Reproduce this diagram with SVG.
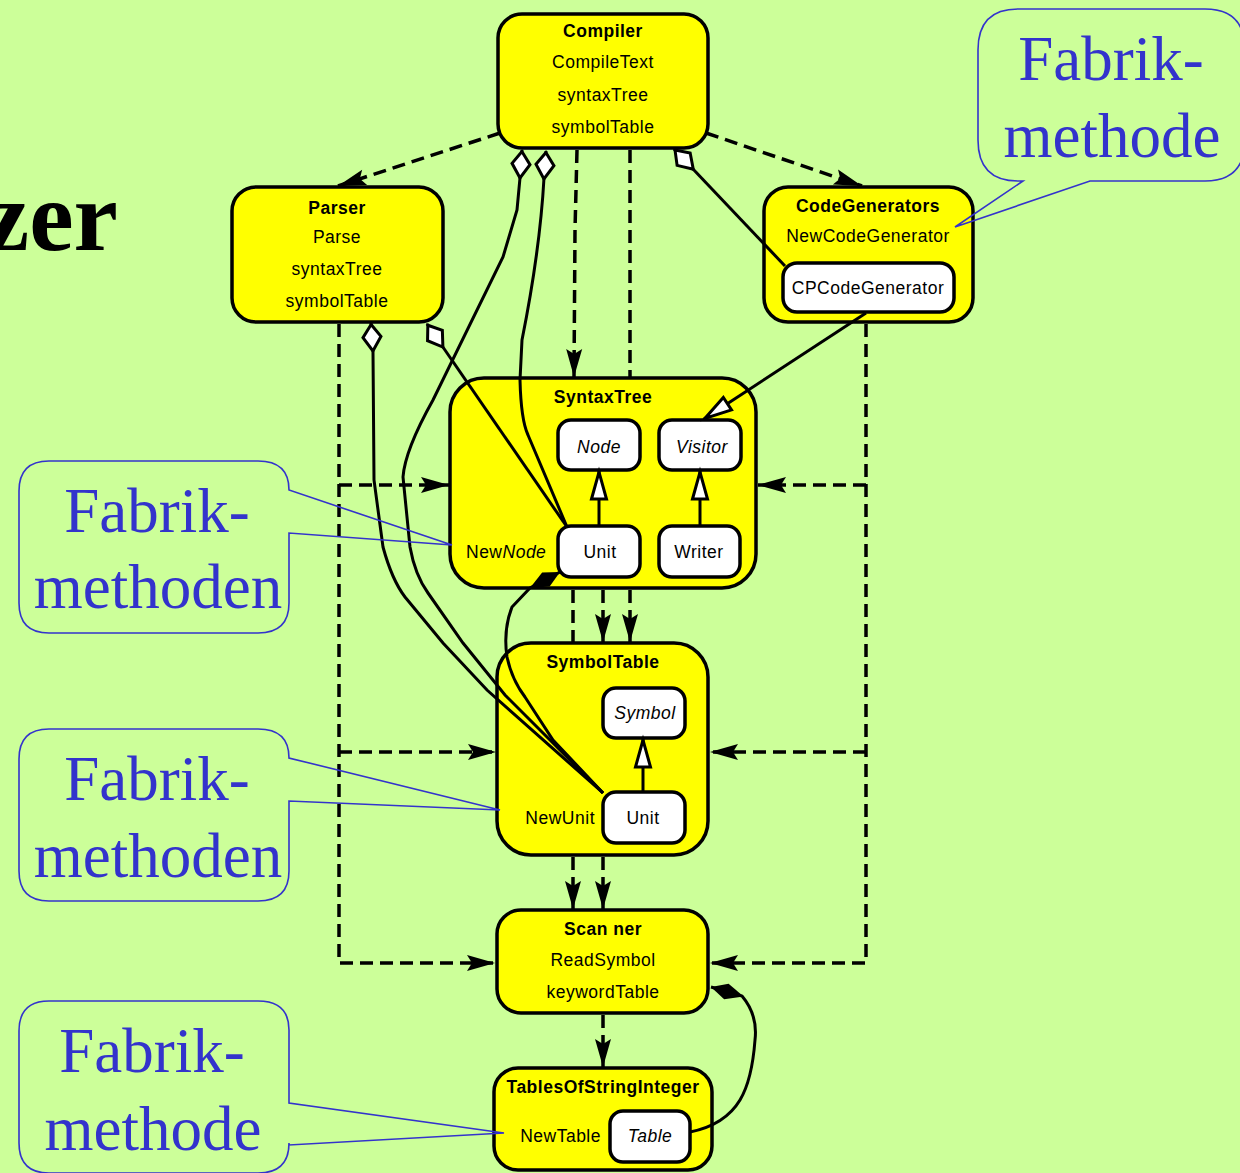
<svg xmlns="http://www.w3.org/2000/svg" width="1240" height="1173" viewBox="0 0 1240 1173">
<style>
.bg{fill:#ccff99}
.nd{fill:#ffff00;stroke:#000;stroke-width:3.5}
.in{fill:#fff;stroke:#000;stroke-width:3.5}
.t{font-family:"Liberation Sans",Arial,sans-serif;font-size:17.5px;letter-spacing:0.5px;fill:#000;text-anchor:middle}
.b{font-weight:bold}
.i{font-style:italic}
.dash{fill:none;stroke:#000;stroke-width:3.5;stroke-dasharray:13 7}
.sol{fill:none;stroke:#000;stroke-width:3}
.co{fill:none;stroke:#3333cc;stroke-width:1.6}
.ct{font-family:"Liberation Serif","Times New Roman",serif;font-size:63px;fill:#3333cc;text-anchor:middle}
</style>
<defs>
<marker id="arr" markerUnits="userSpaceOnUse" markerWidth="30" markerHeight="18" refX="28" refY="8" orient="auto" overflow="visible">
<path d="M0,0 L28,8 L0,16 L5,8 Z" fill="#000"/>
</marker>
<marker id="tri" markerUnits="userSpaceOnUse" markerWidth="32" markerHeight="18" refX="30" refY="8" orient="auto" overflow="visible">
<path d="M2,0.5 L29,8 L2,15.5 Z" fill="#fff" stroke="#000" stroke-width="3"/>
</marker>
<marker id="dia" markerUnits="userSpaceOnUse" markerWidth="32" markerHeight="24" refX="0" refY="11" orient="auto" overflow="visible">
<path d="M1.5,11 L14,2 L28,11 L14,20 Z" fill="#fff" stroke="#000" stroke-width="3"/>
</marker>
<marker id="fdia" markerUnits="userSpaceOnUse" markerWidth="36" markerHeight="18" refX="0" refY="8" orient="auto" overflow="visible">
<path d="M0,8 L16,0 L34,8 L16,16 Z" fill="#000"/>
</marker>
</defs>
<rect class="bg" x="0" y="0" width="1240" height="1173"/>
<text x="118" y="250" font-family="Liberation Serif,'Times New Roman',serif" font-size="100" font-weight="bold" text-anchor="end" fill="#000">zer</text>

<g id="Compiler">
<rect class="nd" x="498" y="14" width="210" height="134" rx="24"/>
<text class="t b" x="603" y="37">Compiler</text>
<text class="t" x="603" y="68">CompileText</text>
<text class="t" x="603" y="101">syntaxTree</text>
<text class="t" x="603" y="133">symbolTable</text>
</g>
<g id="Parser">
<rect class="nd" x="232" y="187" width="211" height="135" rx="24"/>
<text class="t b" x="337" y="214">Parser</text>
<text class="t" x="337" y="243">Parse</text>
<text class="t" x="337" y="275">syntaxTree</text>
<text class="t" x="337" y="307">symbolTable</text>
</g>
<g id="CodeGenerators">
<rect class="nd" x="764" y="187" width="209" height="135" rx="24"/>
<text class="t b" x="868" y="212">CodeGenerators</text>
<text class="t" x="868" y="242">NewCodeGenerator</text>
<g id="CPCodeGenerator">
<rect class="in" x="783" y="263" width="171" height="49" rx="14"/>
<text class="t" x="868" y="294">CPCodeGenerator</text>
</g>
</g>
<g id="SyntaxTree">
<rect class="nd" x="450" y="378" width="306" height="210" rx="34"/>
<text class="t b" x="603" y="403">SyntaxTree</text>
<text class="t" x="466" y="558" style="text-anchor:start">New<tspan font-style="italic">Node</tspan></text>
<g id="Node"><rect class="in" x="558" y="420" width="82" height="50" rx="13"/><text class="t i" x="599" y="453">Node</text></g>
<g id="Visitor"><rect class="in" x="659" y="420" width="82" height="50" rx="13"/><text class="t i" x="702" y="453">Visitor</text></g>
<g id="UnitST"><rect class="in" x="558" y="526" width="82" height="51" rx="13"/><text class="t" x="600" y="558">Unit</text></g>
<g id="Writer"><rect class="in" x="659" y="526" width="81" height="51" rx="13"/><text class="t" x="699" y="558">Writer</text></g>
</g>
<g id="SymbolTable">
<rect class="nd" x="497" y="643" width="211" height="212" rx="34"/>
<text class="t b" x="603" y="668">SymbolTable</text>
<text class="t" x="595" y="824" style="text-anchor:end">NewUnit</text>
<g id="Symbol"><rect class="in" x="603" y="688" width="82" height="50" rx="13"/><text class="t i" x="645" y="719">Symbol</text></g>
<g id="UnitSym"><rect class="in" x="603" y="792" width="82" height="51" rx="13"/><text class="t" x="643" y="824">Unit</text></g>
</g>
<g id="Scanner">
<rect class="nd" x="497" y="910" width="211" height="103" rx="24"/>
<text class="t b" x="603" y="935">Scan ner</text>
<text class="t" x="603" y="966">ReadSymbol</text>
<text class="t" x="603" y="998">keywordTable</text>
</g>
<g id="TablesOfStringInteger">
<rect class="nd" x="494" y="1068" width="218" height="102" rx="24"/>
<text class="t b" x="603" y="1093">TablesOfStringInteger</text>
<text class="t" x="601" y="1142" style="text-anchor:end">NewTable</text>
<g id="Table"><rect class="in" x="610" y="1111" width="80" height="51" rx="13"/><text class="t i" x="650" y="1142">Table</text></g>
</g>

<g id="connectors">
<path class="dash" d="M500,133 L338,186" marker-end="url(#arr)"/>
<path class="dash" d="M706,133 L862,186" marker-end="url(#arr)"/>
<path class="dash" d="M577,150 L575,230 L574,377" marker-end="url(#arr)"/>
<path class="dash" d="M630,150 L630,378"/>
<path class="dash" d="M630,590 L630,642" marker-end="url(#arr)"/>
<path class="dash" d="M603,590 L603,642" marker-end="url(#arr)"/>
<path class="dash" d="M573,590 L573,643"/>
<path class="dash" d="M573,857 L573,909" marker-end="url(#arr)"/>
<path class="dash" d="M603,857 L603,909" marker-end="url(#arr)"/>
<path class="dash" d="M603,1015 L603,1067" marker-end="url(#arr)"/>
<path class="dash" d="M339,324 L339,963 L495,963" marker-end="url(#arr)"/>
<path class="dash" d="M339,485 L449,485" marker-end="url(#arr)"/>
<path class="dash" d="M339,752 L496,752" marker-end="url(#arr)"/>
<path class="dash" d="M866,324 L866,963 L710,963" marker-end="url(#arr)"/>
<path class="dash" d="M866,485 L758,485" marker-end="url(#arr)"/>
<path class="dash" d="M866,752 L710,752" marker-end="url(#arr)"/>

<path class="sol" d="M522,150 L520,178 L517,210 L503,257 L433,400 Q405,450 403,477 L410,547 Q415,575 428,593 L463,643 L505,695 L603,793" marker-start="url(#dia)"/>
<path class="sol" d="M546,151 L544,178 Q540,250 522,340 L520,380 Q521,420 528,435 L567,527" marker-start="url(#dia)"/>
<path class="sol" d="M371,323 L373,352 L374,480 L383,547 Q392,580 405,597 L443,643 L487,690 L603,793" marker-start="url(#dia)"/>
<path class="sol" d="M427,324 L567,527" marker-start="url(#dia)"/>
<path class="sol" d="M674,149 L785,266" marker-start="url(#dia)"/>
<path class="sol" d="M560,572 L530,588 L512,607 Q503,630 507,657 Q512,680 525,697 L553,740 L603,793" marker-start="url(#fdia)"/>
<path class="sol" d="M711,987 L742,996 Q758,1015 755,1040 Q752,1080 740,1100 Q725,1125 690,1132" marker-start="url(#fdia)"/>
<path class="sol" d="M866,313 L704,419" marker-end="url(#tri)"/>
<path class="sol" d="M599,526 L599,471" marker-end="url(#tri)"/>
<path class="sol" d="M700,526 L700,471" marker-end="url(#tri)"/>
<path class="sol" d="M643,792 L643,739" marker-end="url(#tri)"/>
</g>

<g id="callout-codegen">
<path class="co" d="M1018,9 L1205,9 Q1245,9 1245,50 L1245,140 Q1245,181 1205,181 L1090,181 L955,227 L1023,181 L1018,181 Q978,181 978,140 L978,50 Q978,9 1018,9 Z"/>
<text class="ct" x="1111" y="80">Fabrik-</text>
<text class="ct" x="1112" y="157">methode</text>
</g>
<g id="callout-syntaxtree">
<path class="co" d="M49,461 L258,461 Q289,461 289,490 L452,545 L289,533 L289,603 Q289,633 258,633 L49,633 Q19,633 19,603 L19,491 Q19,461 49,461 Z"/>
<text class="ct" x="157" y="532">Fabrik-</text>
<text class="ct" x="158" y="608">methoden</text>
</g>
<g id="callout-symboltable">
<path class="co" d="M49,729 L258,729 Q289,729 289,758 L500,810 L289,801 L289,871 Q289,901 258,901 L49,901 Q19,901 19,871 L19,759 Q19,729 49,729 Z"/>
<text class="ct" x="157" y="800">Fabrik-</text>
<text class="ct" x="158" y="877">methoden</text>
</g>
<g id="callout-tables">
<path class="co" d="M49,1001 L258,1001 Q289,1001 289,1030 L289,1103 L504,1133 L289,1145 L289,1143 Q289,1173 258,1173 L49,1173 Q19,1173 19,1143 L19,1031 Q19,1001 49,1001 Z"/>
<text class="ct" x="152" y="1072">Fabrik-</text>
<text class="ct" x="153" y="1150">methode</text>
</g>
</svg>
